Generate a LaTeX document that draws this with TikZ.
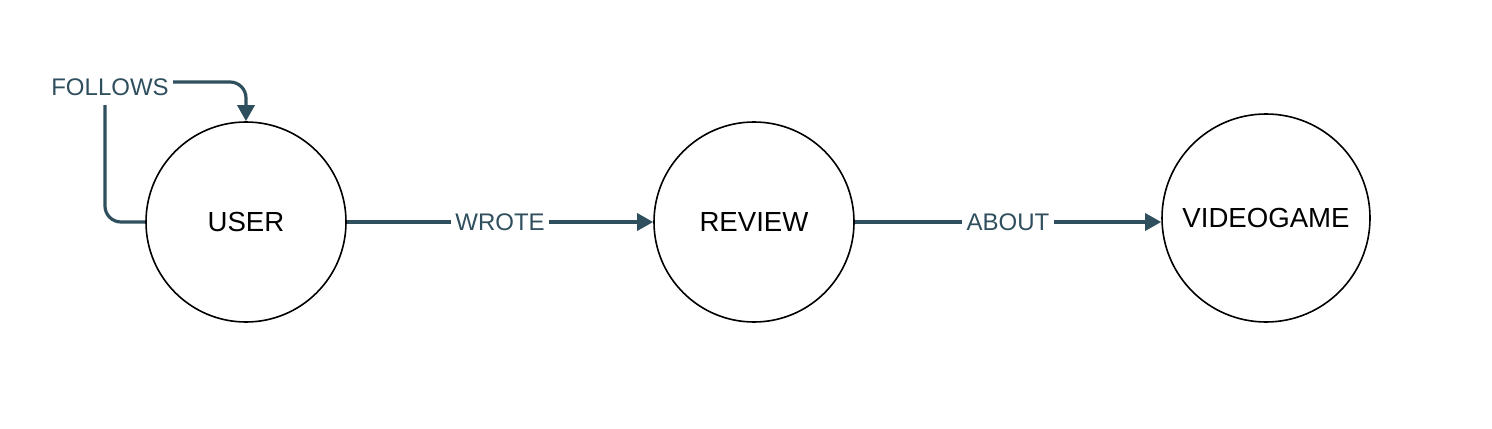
\documentclass[tikz,border=0pt]{standalone}
\usepackage{fontspec}
\setmainfont{Liberation Sans}
\usetikzlibrary{arrows.meta}
\definecolor{edgecol}{HTML}{2F4F5E}
\begin{document}
\begin{tikzpicture}[x=0.5pt,y=-0.5pt,
  entity/.style={circle,draw=black,line width=0.8pt,minimum size=100pt,inner sep=0pt,font=\fontsize{13.8}{16}\selectfont},
  rel/.style={draw=edgecol,line width=1.6pt,-{Triangle[length=8pt,width=8.5pt]}},
  rlabel/.style={fill=white,text=edgecol,inner xsep=2.2pt,inner ysep=1pt,font=\fontsize{12}{14}\selectfont}]
\useasboundingbox (0,0) rectangle (1492,428);
\node[entity] (user) at (246,222) {USER};
\node[entity] (review) at (754,222) {REVIEW};
\node[entity,minimum size=104pt] (game) at (1266,218) {VIDEOGAME};
\draw[rel] (user.east) -- node[rlabel] (wrote) {WROTE} (review.west);
\draw[rel] (review.east) -- node[rlabel] (about) {ABOUT} (review.east -| game.west);
\draw[rel,rounded corners=8pt] (user.west) -- (105,222) -- (105,82) -- (246,82) -- (user.north);
\node[rlabel,minimum height=18pt,inner xsep=2pt] (follows) at (110,87) {FOLLOWS};
\end{tikzpicture}
\end{document}
